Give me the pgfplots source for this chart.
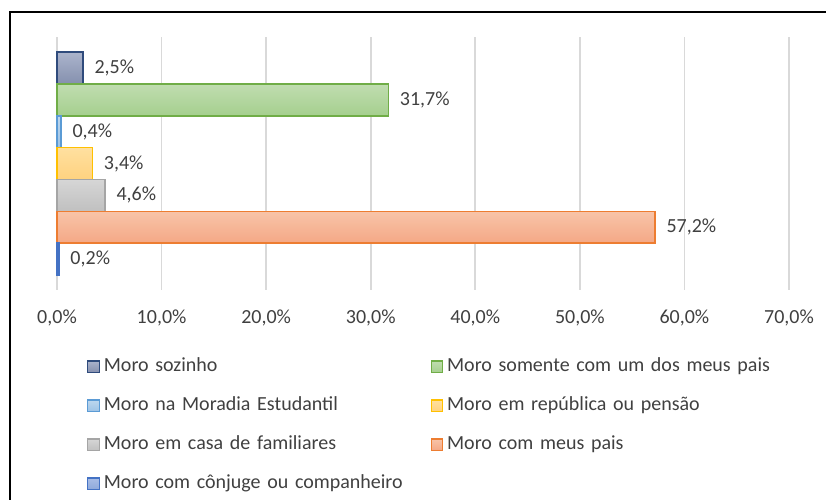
\documentclass[border=0pt]{standalone}
\usepackage{fontspec}
\setmainfont{Carlito}
\usepackage{pgfplots}
\pgfplotsset{compat=1.18}

\definecolor{txt}{HTML}{404040}
\definecolor{gridc}{HTML}{D9D9D9}
% border / top / bottom colours of each series
\definecolor{soD}{HTML}{2F4B7C}\definecolor{soT}{HTML}{ABB4CC}\definecolor{soB}{HTML}{8590AE}
\definecolor{umD}{HTML}{70AD47}\definecolor{umT}{HTML}{C0DDB0}\definecolor{umB}{HTML}{A5CF8E}
\definecolor{esD}{HTML}{5B9BD5}\definecolor{esT}{HTML}{BDD7EE}\definecolor{esB}{HTML}{9DC3E6}
\definecolor{reD}{HTML}{FFC000}\definecolor{reT}{HTML}{FFE0A0}\definecolor{reB}{HTML}{FFD27F}
\definecolor{faD}{HTML}{A5A5A5}\definecolor{faT}{HTML}{D6D6D6}\definecolor{faB}{HTML}{C0C0C0}
\definecolor{paD}{HTML}{ED7D31}\definecolor{paT}{HTML}{F8C4A8}\definecolor{paB}{HTML}{F4A886}
\definecolor{coD}{HTML}{4472C4}\definecolor{coT}{HTML}{A9BDE6}\definecolor{coB}{HTML}{8EA9DB}

\pgfplotsset{
  barbase/.style={xbar, bar width=1, bar shift=0pt, line width=1.1pt,
    nodes near coords={\pgfmathprintnumber[fixed,fixed zerofill,precision=1,use comma]{\pgfplotspointmeta}\%},
    point meta=x,
    nodes near coords style={anchor=west, xshift=6pt, text=txt, inner sep=2pt},
    legend image code/.code={%
      \path[draw=none] (0pt,0pt) -- (12pt,0pt);
      \draw[##1, line width=0.9pt] (0pt,-4.3pt) rectangle (8.6pt,4.3pt);}},
}

\begin{document}
\begin{tikzpicture}[x=0.75pt, y=-0.75pt, font=\fontsize{15}{18}\selectfont]
\useasboundingbox (0,0) rectangle (826,500);
\draw[line width=1.6pt, black] (10,12) rectangle (860,540);

\begin{axis}[
  at={(42.75pt,-27.75pt)}, anchor=north west,
  scale only axis, width=549pt, height=189.75pt,
  xmin=0, xmax=70, ymin=0.025, ymax=7.975, y dir=reverse,
  xtick={0,10,...,70}, ytick=\empty,
  xticklabel={\pgfmathprintnumber[fixed,fixed zerofill,precision=1,use comma]{\tick}\%},
  xticklabel style={text=txt, inner sep=0pt, yshift=-15pt},
  /pgf/number format/assume math mode=true,
  axis line style={draw=none}, major tick length=0pt,
  xmajorgrids, grid style={gridc, line width=1.3pt},
  clip=false,
  legend columns=2,
  legend style={at={(0.041,-0.265)}, anchor=north west, draw=none, fill=none,
    inner sep=0pt, row sep=15.25pt, column sep=0pt,
    nodes={text=txt, inner sep=0pt, text height=11pt, text depth=3pt, text width=245pt, align=left}},
  legend cell align=left,
]
\addplot[barbase, draw=soD, top color=soT, bottom color=soB] coordinates {(2.5,1)};
\addlegendentry{Moro sozinho}
\addplot[barbase, draw=umD, top color=umT, bottom color=umB] coordinates {(31.7,2)};
\addlegendentry{Moro somente com um dos meus pais}
\addplot[barbase, draw=esD, top color=esT, bottom color=esB] coordinates {(0.4,3)};
\addlegendentry{Moro na Moradia Estudantil}
\addplot[barbase, draw=reD, top color=reT, bottom color=reB] coordinates {(3.4,4)};
\addlegendentry{Moro em república ou pensão}
\addplot[barbase, draw=faD, top color=faT, bottom color=faB] coordinates {(4.6,5)};
\addlegendentry{Moro em casa de familiares}
\addplot[barbase, draw=paD, top color=paT, bottom color=paB] coordinates {(57.2,6)};
\addlegendentry{Moro com meus pais}
\addplot[barbase, draw=coD, top color=coT, bottom color=coB] coordinates {(0.2,7)};
\addlegendentry{Moro com cônjuge ou companheiro}
\end{axis}
\end{tikzpicture}
\end{document}
